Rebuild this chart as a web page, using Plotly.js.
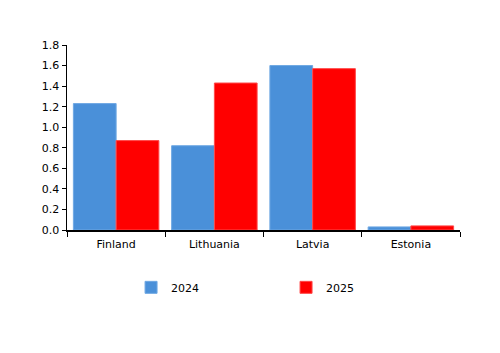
<!DOCTYPE html>
<html>
<head>
<meta charset="utf-8">
<script src="https://cdn.plot.ly/plotly-3.0.1.min.js"></script>
<style>html,body{margin:0;padding:0;background:#fff;}#chart{width:500px;height:353px;}</style>
</head>
<body>
<div id="chart"></div>
<script>
var categories = ["Finland", "Lithuania", "Latvia", "Estonia"];
var series2024 = [1.23, 0.82, 1.60, 0.03];
var series2025 = [0.87, 1.43, 1.57, 0.04];
var seriesNames = ["2024", "2025"];

var traces = [
  {type: "bar", name: seriesNames[0], x: categories, y: series2024,
   marker: {color: "#4A90D9", line: {color: "#6FA8E3", width: 1}}},
  {type: "bar", name: seriesNames[1], x: categories, y: series2025,
   marker: {color: "#FF0000", line: {color: "#FF4A4A", width: 1}}}
];

var layout = {
  width: 500, height: 353,
  margin: {l: 67, r: 40, t: 45, b: 123},
  paper_bgcolor: "#fff", plot_bgcolor: "#fff",
  font: {family: "DejaVu Sans, Verdana, sans-serif", size: 11, color: "#000"},
  barmode: "group", bargap: 0.13, bargroupgap: 0,
  showlegend: true,
  legend: {orientation: "h", x: 0.163, xanchor: "left", y: -0.31, yanchor: "middle",
           entrywidth: 110, entrywidthmode: "pixels", font: {size: 11}},
  xaxis: {showline: true, linecolor: "#000", linewidth: 1.5, ticks: "outside",
          tickson: "boundaries", ticklen: 5, tickcolor: "#000", showgrid: false, zeroline: false,
          ticklabelstandoff: 3},
  yaxis: {range: [0, 1.8], dtick: 0.2, tickformat: ".1f", showline: true, linecolor: "#000",
          linewidth: 1.5, ticks: "outside", ticklen: 4, tickcolor: "#000", showgrid: false, zeroline: false}
};

Plotly.newPlot("chart", traces, layout, {displayModeBar: false, staticPlot: true});
</script>
</body>
</html>
